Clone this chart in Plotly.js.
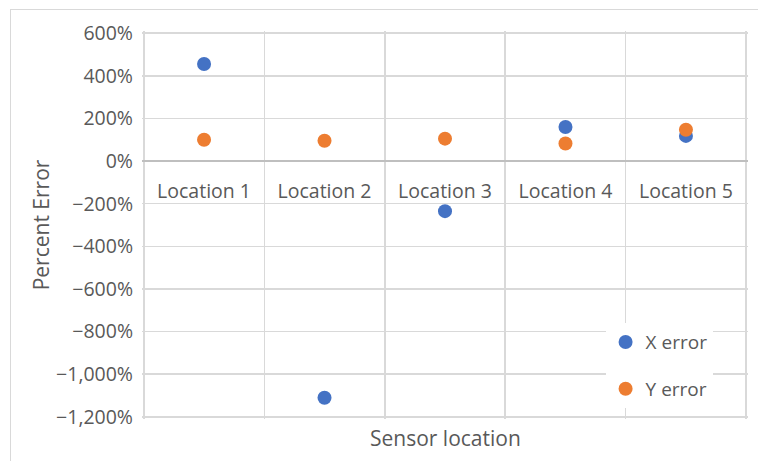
<!DOCTYPE html>
<html>
<head>
<meta charset="utf-8">
<script src="https://cdn.plot.ly/plotly-3.0.1.min.js"></script>
<style>
  html, body { margin: 0; padding: 0; background: #ffffff; }
  #wrap { position: relative; width: 758px; height: 461px; overflow: hidden; }
  #chart { position: absolute; left: 0; top: 0; width: 758px; height: 461px; }
  #frame { position: absolute; left: 10px; top: 9px; width: 770px; height: 470px;
           border: 1.5px solid #d9d9d9; pointer-events: none; }
</style>
</head>
<body>
<div id="wrap">
  <div id="chart"></div>
  <div id="frame"></div>
</div>
<script>
const categories = ["Location 1", "Location 2", "Location 3", "Location 4", "Location 5"];
const xErrorValues = [4.55, -11.10, -2.35, 1.60, 1.18];
const yErrorValues = [1.00, 0.95, 1.05, 0.82, 1.47];
const seriesNames = ["X error", "Y error"];
const yTickValues = [-12, -10, -8, -6, -4, -2, 0, 2, 4, 6];
const xTitle = "Sensor location";
const yTitle = "Percent Error";

const textColor = "#595959";
const fontFamily = "'Open Sans', 'Noto Sans', sans-serif";

const yRange = [-12.1, 6.1];
const xRange = [-0.515, 4.515];
const zeroFrac = (0 - yRange[0]) / (yRange[1] - yRange[0]);

const traces = [
  {
    type: "scatter", mode: "markers", name: seriesNames[0], legendgroup: "a",
    x: categories, y: xErrorValues,
    marker: { color: "#4472C4", size: 14 }
  },
  {
    type: "scatter", mode: "markers", name: seriesNames[1], legendgroup: "b",
    x: categories, y: yErrorValues,
    marker: { color: "#ED7D31", size: 14 }
  }
];

const layout = {
  width: 758, height: 461,
  margin: { l: 142, r: 10, t: 31, b: 42 },
  paper_bgcolor: "#ffffff", plot_bgcolor: "#ffffff",
  font: { family: fontFamily, color: textColor, size: 19 },
  showlegend: true,
  legend: {
    x: 0.765, y: 0.247, xanchor: "left", yanchor: "top",
    bgcolor: "#ffffff", borderwidth: 0,
    font: { family: fontFamily, color: textColor, size: 19 },
    traceorder: "grouped", tracegroupgap: 19
  },
  xaxis: {
    type: "category",
    range: xRange,
    tickson: "boundaries",
    showgrid: true, gridcolor: "#d9d9d9", gridwidth: 1.5,
    anchor: "free", position: zeroFrac,
    showline: false, zeroline: false,
    ticks: "", ticklabelstandoff: 16,
    tickfont: { family: fontFamily, color: textColor, size: 19.5 }
  },
  yaxis: {
    range: yRange,
    tickvals: yTickValues,
    tickformat: ",.0%",
    showgrid: true, gridcolor: "#d9d9d9", gridwidth: 1.5,
    zeroline: true, zerolinecolor: "#bfbfbf", zerolinewidth: 2,
    showline: false,
    ticks: "", ticklabelstandoff: 8,
    tickfont: { family: fontFamily, color: textColor, size: 19.5 },
    title: { text: yTitle, standoff: 0, font: { family: fontFamily, color: textColor, size: 21 } }
  },
  annotations: [
    {
      text: xTitle, xref: "paper", yref: "paper", x: 0.5, y: -0.049,
      xanchor: "center", yanchor: "middle", showarrow: false,
      font: { family: fontFamily, color: textColor, size: 21 }
    }
  ]
};

Plotly.newPlot("chart", traces, layout, { displayModeBar: false, staticPlot: true });
</script>
</body>
</html>
